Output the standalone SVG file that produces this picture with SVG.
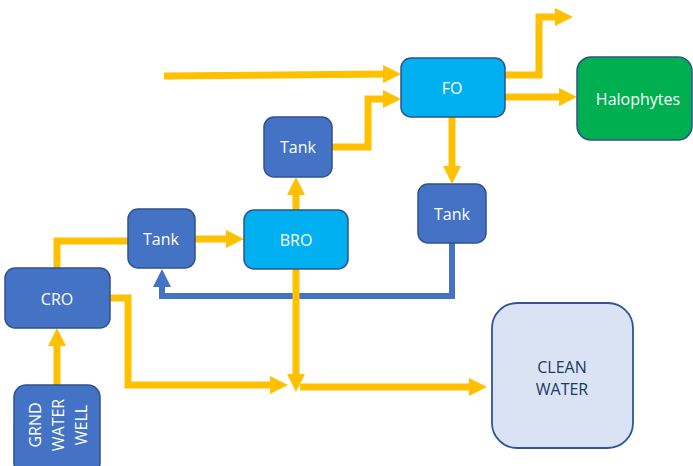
<svg xmlns="http://www.w3.org/2000/svg" width="693" height="466" viewBox="0 0 693 466">
<style>
.blue{fill:#4472C4;stroke:#2F528F;stroke-width:1.5}
.cyan{fill:#00B0F0;stroke:#2F528F;stroke-width:1.5}
.green{fill:#00B050;stroke:#2F528F;stroke-width:1.5}
.light{fill:#DAE3F3;stroke:#2F5597;stroke-width:1.8}
.t{font-family:"Open Sans","DejaVu Sans",sans-serif;font-size:16px;fill:#FFFFFF;text-anchor:middle}
.d{fill:#203864}
.y{fill:none;stroke:#FFC000;stroke-width:7}
.b{fill:none;stroke:#4472C4;stroke-width:6}
</style>
<defs>
<marker id="ay" markerUnits="userSpaceOnUse" markerWidth="18" markerHeight="18" refX="6" refY="9" orient="auto">
<path d="M0,0 L18,9 L0,18 z" fill="#FFC000"/>
</marker>
<marker id="ab" markerUnits="userSpaceOnUse" markerWidth="18" markerHeight="18" refX="6" refY="9" orient="auto">
<path d="M0,0 L18,9 L0,18 z" fill="#4472C4"/>
</marker>
</defs>
<rect width="693" height="466" fill="#FFFFFF"/>
<g id="connectors">
<path class="y" d="M57,385 V340" marker-end="url(#ay)"/>
<path class="y" d="M57,268 V241 H128"/>
<path class="y" d="M195,239 H232" marker-end="url(#ay)"/>
<path class="y" d="M296,210 V189" marker-end="url(#ay)"/>
<path class="y" d="M332,147 H368 V99 H389" marker-end="url(#ay)"/>
<path class="y" d="M164,76 L389,74" marker-end="url(#ay)"/>
<path class="y" d="M505,75 H539 V17 H561" marker-end="url(#ay)"/>
<path class="y" d="M505,97 H565" marker-end="url(#ay)"/>
<path class="y" d="M452,117 V172" marker-end="url(#ay)"/>
<path class="b" d="M452,243 V296 H162 V281" marker-end="url(#ab)"/>
<path class="y" d="M110,298 H128 V385 H276" marker-end="url(#ay)"/>
<path class="y" d="M296,269 V380" marker-end="url(#ay)"/>
<path class="y" d="M300,387 H475" marker-end="url(#ay)"/>
</g>
<g id="grnd-water-well">
<rect class="blue" x="14" y="385" width="86" height="90" rx="12"/>
<text class="t" transform="translate(41,425) rotate(-90)">GRND</text>
<text class="t" transform="translate(64,425) rotate(-90)">WATER</text>
<text class="t" transform="translate(87,425) rotate(-90)">WELL</text>
</g>
<g id="cro">
<rect class="blue" x="5" y="268" width="105" height="60" rx="10"/>
<text class="t" x="57" y="305">CRO</text>
</g>
<g id="tank1">
<rect class="blue" x="128" y="209" width="67" height="59" rx="10"/>
<text class="t" x="161" y="245">Tank</text>
</g>
<g id="bro">
<rect class="cyan" x="244" y="210" width="104" height="59" rx="10"/>
<text class="t" x="296" y="246">BRO</text>
</g>
<g id="tank2">
<rect class="blue" x="264" y="117" width="68" height="60" rx="10"/>
<text class="t" x="298" y="153">Tank</text>
</g>
<g id="fo">
<rect class="cyan" x="401" y="58" width="104" height="59" rx="10"/>
<text class="t" x="452" y="94">FO</text>
</g>
<g id="tank3">
<rect class="blue" x="418" y="184" width="68" height="59" rx="10"/>
<text class="t" x="452" y="220">Tank</text>
</g>
<g id="halophytes">
<rect class="green" x="577" y="57" width="115" height="83" rx="14"/>
<text class="t" x="638" y="105">Halophytes</text>
</g>
<g id="clean-water">
<rect class="light" x="492" y="303" width="141" height="145" rx="25"/>
<text class="t d" x="562" y="373">CLEAN</text>
<text class="t d" x="562" y="395">WATER</text>
</g>
</svg>
